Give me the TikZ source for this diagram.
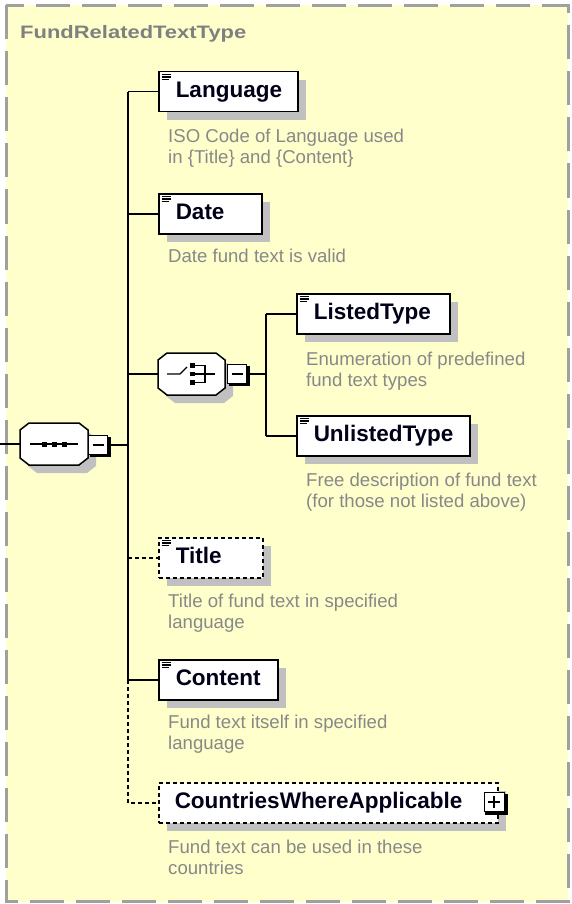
\documentclass[tikz,border=0pt]{standalone}
\usepackage{fontspec}
\setmainfont{Liberation Sans}
\usetikzlibrary{calc,shadows}
\definecolor{bg}{RGB}{255,255,204}
\definecolor{framec}{RGB}{160,160,160}
\definecolor{descc}{RGB}{136,136,136}
\definecolor{titlec}{RGB}{128,128,128}
\definecolor{shadowc}{RGB}{192,192,192}
\definecolor{namec}{RGB}{0,0,24}
\newcommand\octa[5]{\path[#5] (#1+9,#2) -- (#3-9,#2) -- (#3,#2+7) -- (#3,#4-7) -- (#3-9,#4) -- (#1+9,#4) -- (#1,#4-7) -- (#1,#2+7) -- cycle;}
\newcommand\eicon[1]{%
  \draw[line width=1.1pt] ($(#1.north west)+(3.5pt,-3.5pt)$) -- ++(9.5pt,0pt);
  \draw[line width=1.1pt] ($(#1.north west)+(3.5pt,-6pt)$) -- ++(9.5pt,0pt);
  \draw[line width=1.1pt] ($(#1.north west)+(3.5pt,-8.5pt)$) -- ++(7.5pt,0pt);}
\begin{document}
\begin{tikzpicture}[x=1pt,y=-1pt,
  conn/.style={line width=1.5pt},
  optline/.style={line width=1.5pt, dash pattern=on 4pt off 3pt},
  elem/.style={draw, line width=1.5pt, fill=white, rectangle, anchor=north west,
    minimum height=40pt, inner xsep=0pt, inner ysep=0pt, align=left,
    text height=16pt, text depth=5pt, text=namec,
    font=\fontsize{22.5}{27}\selectfont\bfseries,
    drop shadow={shadow xshift=8pt, shadow yshift=-8pt, fill=shadowc, opacity=1}},
  optelem/.style={elem, dash pattern=on 4pt off 3pt},
  descr/.style={anchor=north west, inner sep=0pt, align=left, text=descc,
    font=\fontsize{18.6}{21}\selectfont},
  anchorbox/.style={inner sep=0pt, draw=none},
  ]
\useasboundingbox (0,0) rectangle (572,904);
% outer frame
\fill[bg] (6,5.5) rectangle (568,901.5);
\draw[framec, line width=3pt, dash pattern=on 34pt off 12pt] (6,5.5) rectangle (568,901.5);
\node[anchor=base west, inner sep=0pt, text=titlec, font=\fontsize{18}{21}\selectfont\bfseries] (ttl) at (20,39) {\scalebox{1.22}[1]{FundRelatedTextType}};

% bus coordinates
\coordinate (bus) at (128,0);
\coordinate (bustwo) at (266,0);
\coordinate (in) at (0,444);

% sequence compositor
\octa{28}{431}{96}{473}{fill=shadowc}
\octa{20}{423}{88}{465}{draw, fill=white, line width=1.5pt}
\node[anchorbox, minimum width=68pt, minimum height=42pt] (seq) at (54,444) {};
\draw[line width=1.3pt] (30,444) -- (78,444);
\fill (41.5,441.5) rectangle ++(5,5);
\fill (51.5,441.5) rectangle ++(5,5);
\fill (61.5,441.5) rectangle ++(5,5);
\fill (90,437) rectangle (110.5,457);
\node[anchorbox, draw, line width=1pt, fill=white, minimum width=19pt, minimum height=19pt] (seqm) at (98,445) {};
\draw[line width=1.2pt] (92.5,445) -- (103.5,445);

% choice compositor
\octa{166}{361}{233}{403}{fill=shadowc}
\octa{158}{353}{225}{395}{draw, fill=white, line width=1.5pt}
\node[anchorbox, minimum width=67pt, minimum height=42pt] (chc) at (191.5,374) {};
\draw[line width=1.3pt] (167,374) -- (180,374) -- (187,367);
\fill (190,363) rectangle ++(4.5,4.5);
\fill (190,371.5) rectangle ++(4.5,4.5);
\fill (190,380) rectangle ++(4.5,4.5);
\draw[line width=1.2pt] (194.5,365.2) -- (205,365.2) -- (205,382.2) -- (194.5,382.2);
\draw[line width=1.2pt] (194.5,374) -- (215,374);
\fill (229,366) rectangle (249.5,386);
\node[anchorbox, draw, line width=1pt, fill=white, minimum width=19pt, minimum height=19pt] (chm) at (237,374) {};
\draw[line width=1.2pt] (231.5,374) -- (242.5,374);

% elements
\node[elem, text width=139pt] (lang) at (158,71) {\hspace*{17pt}Language};
\eicon{lang}
\node[elem, text width=103pt] (date) at (158,193) {\hspace*{17pt}Date};
\eicon{date}
\node[elem, text width=153pt] (listed) at (296,293) {\hspace*{17pt}ListedType};
\eicon{listed}
\node[elem, text width=173pt] (unlisted) at (296,415) {\hspace*{17pt}UnlistedType};
\eicon{unlisted}
\node[optelem, text width=104pt] (title) at (158,537) {\hspace*{17pt}Title};
\eicon{title}
\node[elem, text width=119pt] (content) at (158,659) {\hspace*{17pt}Content};
\eicon{content}
\node[optelem, text width=339pt] (cwa) at (158,782) {\hspace*{16pt}CountriesWhereApplicable};
\fill (485,794) rectangle (507.5,815);
\node[anchorbox, draw, line width=1pt, fill=white, minimum width=20pt, minimum height=19pt] (cwap) at (494,802) {};
\draw[line width=1.2pt] (488,802) -- (500,802);
\draw[line width=1.2pt] (494,796) -- (494,808);

% descriptions
\node[descr] (dlang) at (168,128) {\rule{0pt}{14pt}ISO Code of Language used\\in \{Title\} and \{Content\}};
\node[descr] (ddate) at (168,248) {\rule{0pt}{14pt}Date fund text is valid};
\node[descr] (dlisted) at (306,351) {\rule{0pt}{14pt}Enumeration of predefined\\fund text types};
\node[descr] (dunlisted) at (306,472) {\rule{0pt}{14pt}Free description of fund text\\(for those not listed above)};
\node[descr] (dtitle) at (168,593) {\rule{0pt}{14pt}Title of fund text in specified\\language};
\node[descr] (dcontent) at (168,714) {\rule{0pt}{14pt}Fund text itself in specified\\language};
\node[descr] (dcwa) at (168,839) {\rule{0pt}{14pt}Fund text can be used in these\\countries};

% connectors
\draw[conn] (in) -- (seq.west);
\draw[conn] (seqm.east) -- (seqm.east -| bus);
\draw[conn] (lang.west -| bus) -- (content.west -| bus);
\draw[conn] (lang.west -| bus) -- (lang.west);
\draw[conn] (date.west -| bus) -- (date.west);
\draw[conn] (chc.west -| bus) -- (chc.west);
\draw[optline] (title.west -| bus) -- (title.west);
\draw[conn] (content.west -| bus) -- (content.west);
\draw[optline] (content.west -| bus) -- (cwa.west -| bus) -- (cwa.west);
\draw[conn] (chm.east) -- (chm.east -| bustwo);
\draw[conn] (listed.west -| bustwo) -- (unlisted.west -| bustwo);
\draw[conn] (listed.west -| bustwo) -- (listed.west);
\draw[conn] (unlisted.west -| bustwo) -- (unlisted.west);
\end{tikzpicture}
\end{document}
